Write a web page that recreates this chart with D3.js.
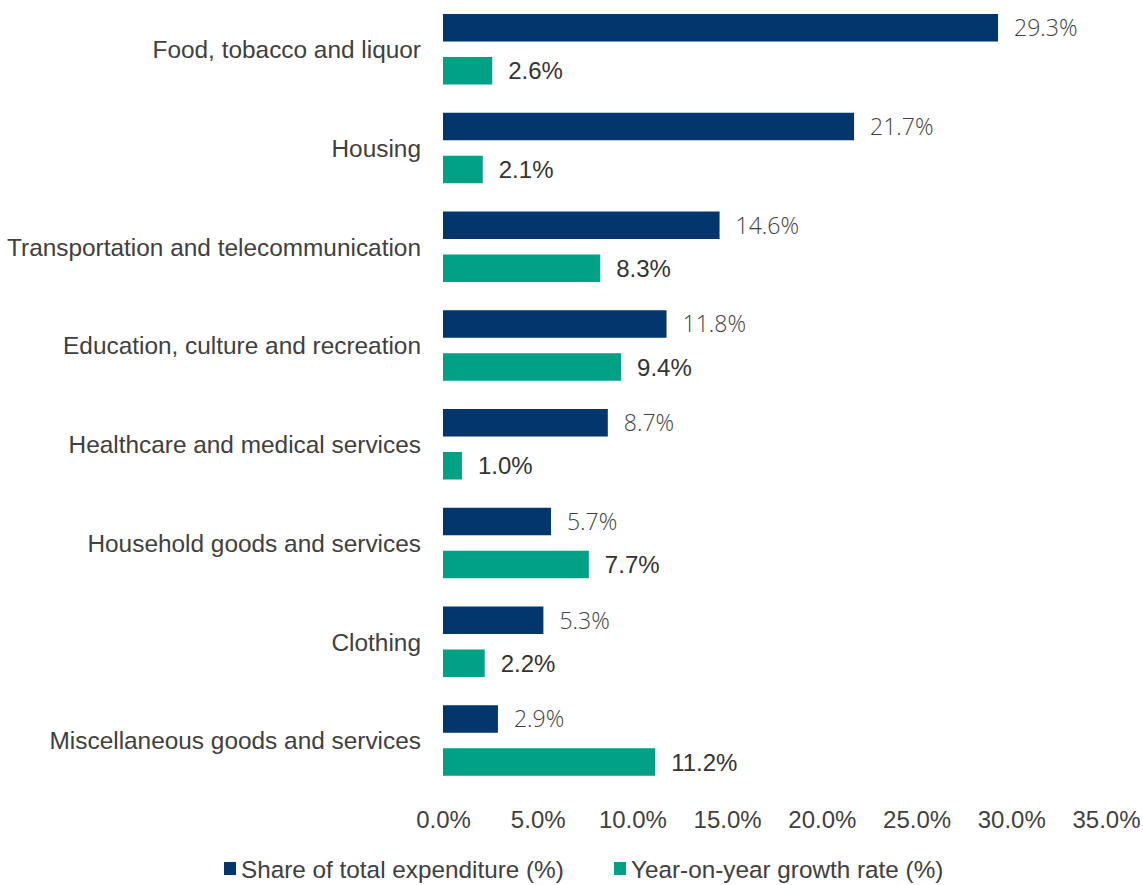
<!DOCTYPE html>
<html>
<head>
<meta charset="utf-8">
<script src="https://cdn.jsdelivr.net/npm/d3@7"></script>
<style>
  html, body { margin: 0; padding: 0; background: #ffffff; }
  svg { display: block; }
</style>
</head>
<body>
<svg id="chart" width="1143" height="885"></svg>
<script>
// Consumer expenditure by category
const categories = [
  "Food, tobacco and liquor",
  "Housing",
  "Transportation and telecommunication",
  "Education, culture and recreation",
  "Healthcare and medical services",
  "Household goods and services",
  "Clothing",
  "Miscellaneous goods and services"
];
const shareValues = [29.3, 21.7, 14.6, 11.8, 8.7, 5.7, 5.3, 2.9];
const growthValues = [2.6, 2.1, 8.3, 9.4, 1.0, 7.7, 2.2, 11.2];
const tickValues = [0, 5, 10, 15, 20, 25, 30, 35];
const seriesNames = ["Share of total expenditure (%)", "Year-on-year growth rate (%)"];
const seriesKeys = ["share", "growth"];
const seriesColors = ["#03366c", "#00a184"];

const rows = categories.map((c, i) => ({ category: c, share: shareValues[i], growth: growthValues[i] }));

const svg = d3.select("#chart");
const fontMain = "'Liberation Sans', Arial, Helvetica, sans-serif";

const x = d3.scaleLinear().domain([0, 35]).range([443, 1106]);
const y = d3.scaleBand().domain(categories).range([0, 790]).paddingInner(0).paddingOuter(0);
const ySub = d3.scaleBand().domain(seriesKeys).range([14, 84.5]).paddingInner(0.36).paddingOuter(0);
const color = d3.scaleOrdinal().domain(seriesKeys).range(seriesColors);

// Category groups
const groups = svg.append("g").selectAll("g")
  .data(rows)
  .join("g")
  .attr("transform", d => `translate(0,${y(d.category)})`);

groups.selectAll("rect")
  .data(d => seriesKeys.map(k => ({ key: k, value: d[k] })))
  .join("rect")
  .attr("x", x(0))
  .attr("y", d => ySub(d.key))
  .attr("width", d => x(d.value) - x(0))
  .attr("height", ySub.bandwidth())
  .attr("fill", d => color(d.key));

// Value labels
groups.selectAll("text.val")
  .data(d => seriesKeys.map(k => ({ key: k, value: d[k] })))
  .join("text")
  .attr("class", "val")
  .attr("x", d => x(d.value) + 16)
  .attr("y", d => ySub(d.key) + ySub.bandwidth() / 2)
  .attr("dy", "0.36em")
  .attr("font-family", d => d.key === "share" ? "'Open Sans', sans-serif" : fontMain)
  .attr("font-weight", d => d.key === "share" ? 300 : 400)
  .attr("font-size", d => d.key === "share" ? 23 : 24)
  .attr("fill", d => d.key === "share" ? "#3f3f3f" : "#333333")
  .text(d => d.value.toFixed(1) + "%");

// Category axis labels
const yAxis = d3.axisLeft(y).tickSize(0).tickPadding(22);
const yg = svg.append("g").attr("transform", `translate(${x(0)},0)`).call(yAxis);
yg.select(".domain").remove();
yg.selectAll("text")
  .attr("font-family", fontMain)
  .attr("font-size", 24.4)
  .attr("fill", "#404040")
  .attr("dy", "0.36em");

// Value axis
const xAxis = d3.axisBottom(x).tickValues(tickValues).tickSize(0).tickPadding(0)
  .tickFormat(d => d.toFixed(1) + "%");
const xg = svg.append("g").attr("transform", "translate(0,811)").call(xAxis);
xg.select(".domain").remove();
xg.selectAll("text")
  .attr("font-family", fontMain)
  .attr("font-size", 24)
  .attr("fill", "#404040")
  .attr("dy", "0.71em");

// Legend
const legendItems = [
  { name: seriesNames[0], key: "share", sx: 224 },
  { name: seriesNames[1], key: "growth", sx: 614 }
];
const lg = svg.append("g").selectAll("g").data(legendItems).join("g")
  .attr("transform", d => `translate(${d.sx},862)`);
lg.append("rect").attr("width", 12).attr("height", 13).attr("fill", d => color(d.key));
lg.append("text")
  .attr("x", 17)
  .attr("y", 7)
  .attr("dy", "0.36em")
  .attr("font-family", fontMain)
  .attr("font-size", 24.3)
  .attr("fill", "#404040")
  .text(d => d.name);
</script>
</body>
</html>
